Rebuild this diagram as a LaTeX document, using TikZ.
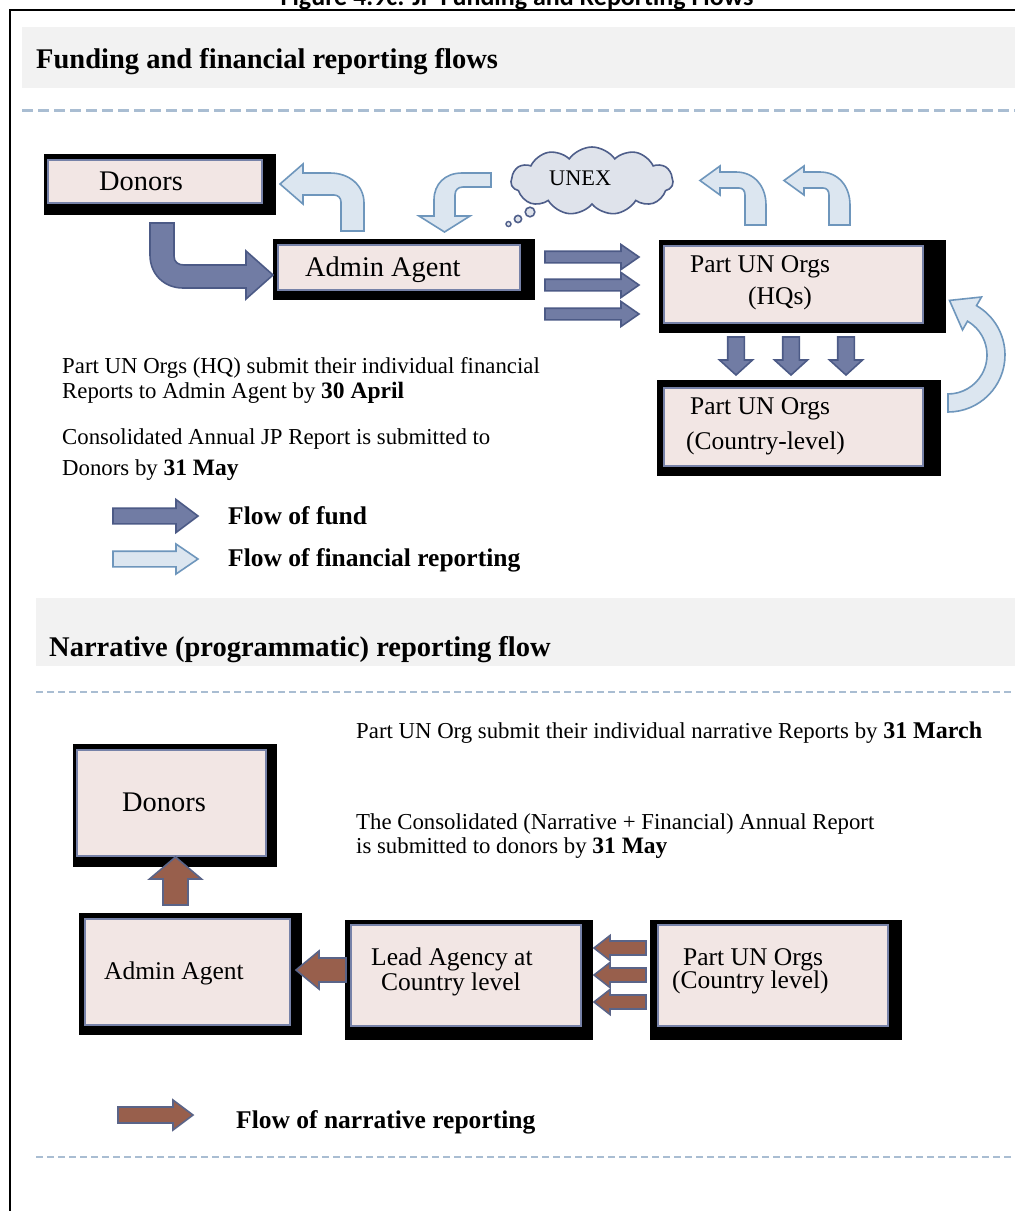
\documentclass[tikz,border=0pt]{standalone}
\usepackage{fontspec}
\setmainfont{Liberation Serif}
\newfontfamily\titlefont{Carlito}
\usetikzlibrary{shapes.symbols}
\definecolor{boxfill}{HTML}{F2E6E4}
\definecolor{boxedge}{HTML}{7782A8}
\definecolor{fundfill}{HTML}{717CA4}
\definecolor{fundedge}{HTML}{4C5A86}
\definecolor{repfill}{HTML}{DCE6F0}
\definecolor{repedge}{HTML}{6E96BC}
\definecolor{narfill}{HTML}{985F4C}
\definecolor{naredge}{HTML}{5A6488}
\definecolor{band}{HTML}{F2F2F2}
\definecolor{dashc}{HTML}{A9BDD2}
\definecolor{cloudfill}{HTML}{DFE3EB}
\definecolor{cloudedge}{HTML}{4E5E8A}
\newcommand\myfs[1]{\fontsize{#1}{#1}\selectfont}
% horizontal block arrow: style, tail x, tip x, y centre, shaft half, head half, head length (signed)
\newcommand\harrow[7][]{%
  \draw[#1] (#2,{#4-#5}) -- ({#3-(#7)},{#4-#5}) -- ({#3-(#7)},{#4-#6}) -- (#3,#4)
    -- ({#3-(#7)},{#4+#6}) -- ({#3-(#7)},{#4+#5}) -- (#2,{#4+#5}) -- cycle;}
% vertical block arrow: style, x centre, tail y, tip y, shaft half, head half, head length (signed)
\newcommand\varrow[7][]{%
  \draw[#1] ({#2-#5},#3) -- ({#2-#5},{#4-(#7)}) -- ({#2-#6},{#4-(#7)}) -- (#2,#4)
    -- ({#2+#6},{#4-(#7)}) -- ({#2+#5},{#4-(#7)}) -- ({#2+#5},#3) -- cycle;}
\tikzset{
  boxst/.style={draw=boxedge, line width=2.5pt, fill=boxfill, inner sep=0pt, outer sep=0pt},
  shadowst/.style={fill=black},
  fundst/.style={fill=fundfill, draw=fundedge, line width=1.6pt, line join=miter},
  repst/.style={fill=repfill, draw=repedge, line width=1.6pt, line join=miter},
  narst/.style={fill=narfill, draw=naredge, line width=1.6pt, line join=miter},
  dashst/.style={draw=dashc, line width=3pt, dash pattern=on 11pt off 5pt},
  dashthin/.style={draw=dashc, line width=2.2pt, dash pattern=on 7pt off 4pt},
  txt/.style={anchor=base west, inner sep=0pt, font=\myfs{22.8}},
  boxtxt/.style={anchor=base west, inner sep=0pt, font=\myfs{25.5}},
  bigtxt/.style={anchor=base west, inner sep=0pt, font=\myfs{28.4}},
  headtxt/.style={anchor=base west, inner sep=0pt, font=\myfs{28.5}\bfseries},
  legtxt/.style={anchor=base west, inner sep=0pt, font=\myfs{25.5}\bfseries},
}
\begin{document}
\begin{tikzpicture}[x=1pt,y=-1pt]
\useasboundingbox (0,0) rectangle (1015,1211);
\begin{scope}
\clip (0,0) rectangle (1015,1211);
\fill[white] (0,0) rectangle (1015,1211);
% figure title (cut by the top edge, as in the reference)
\node[anchor=base, inner sep=0pt, font=\titlefont\myfs{26}\bfseries] (title) at (517,5) {Figure 4.9c: JP Funding and Reporting Flows};
% frame
\draw[line width=1.3pt] (10,1215) -- (10,10) -- (1020,10);

% ===== section 1 =====
\fill[band] (22,27) rectangle (1015,88);
\node[headtxt] (h1) at (36,68) {Funding and financial reporting flows};
\draw[dashst] (22,110) -- (1015,110);

% boxes
\fill[shadowst] (44,154) rectangle (276,215);
\node[boxst, minimum width=214pt, minimum height=43pt] (donA) at (155,181.5) {};
\node[bigtxt] (donAt) at (99,190) {Donors};

\fill[shadowst] (273,239) rectangle (535,300);
\node[boxst, minimum width=242pt, minimum height=45pt] (admA) at (399,267.5) {};
\node[bigtxt] (admAt) at (305,276) {Admin Agent};

\fill[shadowst] (659,240) rectangle (946,333);
\node[boxst, minimum width=259pt, minimum height=77pt] (hq) at (793.5,284.5) {};
\node[boxtxt] (hqt1) at (690,272) {Part UN Orgs};
\node[boxtxt] (hqt2) at (748,304) {(HQs)};

\fill[shadowst] (657,380) rectangle (941,476);
\node[boxst, minimum width=259pt, minimum height=78pt] (cl) at (793.5,427) {};
\node[boxtxt] (clt1) at (690,414) {Part UN Orgs};
\node[boxtxt] (clt2) at (686,449) {(Country-level)};

% cloud
\node[cloud, cloud puffs=11, cloud puff arc=110, aspect=2.3, draw=cloudedge, fill=cloudfill,
      line width=1.6pt, minimum width=162pt, minimum height=68pt, inner sep=0pt] (unex) at (592,181) {};
\node[anchor=base west, inner sep=0pt, font=\myfs{22.3}] (unext) at (549,185) {UNEX};
\draw[draw=cloudedge, fill=cloudfill, line width=1.6pt] (530,212) circle[radius=4.8pt];
\draw[draw=cloudedge, fill=cloudfill, line width=1.6pt] (518,219) circle[radius=3.6pt];
\draw[draw=cloudedge, fill=cloudfill, line width=1.4pt] (508.5,224) circle[radius=2.5pt];

% fund curved arrow Donors -> Admin
\draw[fundst] (150,223) -- (150,255) .. controls (150,274) and (164,288) .. (183,288)
  -- (246,288) -- (246,299) -- (273,275) -- (246,251) -- (246,265) -- (184,265)
  .. controls (178,265) and (174,262) .. (174,256) -- (174,223) -- cycle;
% report arrow Admin -> Donors
\draw[repst] (364,231) -- (364,203) .. controls (364,186) and (350,173) .. (330,173)
  -- (303,173) -- (303,164) -- (280,184) -- (303,204) -- (303,195) -- (334,195)
  .. controls (338,195) and (341,198) .. (341,202) -- (341,231) -- cycle;
% report arrow UNEX -> Admin
\draw[repst] (491,173) -- (462,173) .. controls (445,173) and (434,184) .. (434,200)
  -- (434,216) -- (419,216) -- (444.5,232) -- (470,216) -- (455,216) -- (455,195)
  .. controls (455,190) and (458,187) .. (463,187) -- (491,187) -- cycle;
% report arrows HQ -> up
\foreach \dx in {0,84}{
\begin{scope}[xshift=\dx pt]
\draw[repst] (766,225) -- (766,205) .. controls (766,186) and (754,172) .. (736,172)
  -- (720,172) -- (720,166) -- (700,180.5) -- (720,195) -- (720,188) -- (739,188)
  .. controls (743,188) and (745,191) .. (745,195) -- (745,225) -- cycle;
\end{scope}}
% report arrow Country -> HQ (curved, right side)
\draw[repst] (948,412) arc[start angle=90, end angle=-60, radius=57]
  -- (981.5,297) -- (949.5,300.4) -- (962.5,329.9) -- (967.5,321.2)
  arc[start angle=-60, end angle=90, radius=39] -- cycle;
% fund arrows Admin -> HQ
\foreach \yy in {257,285,314}{\harrow[fundst]{545}{639}{\yy}{5.8}{12.5}{18}}
% fund arrows HQ -> Country
\foreach \xx in {736,791,846}{\varrow[fundst]{\xx}{337}{375}{8.3}{16.5}{15}}

% explanatory text
\node[txt] (t1) at (62,373) {Part UN Orgs (HQ) submit their individual financial};
\node[txt] (t2) at (62,398) {Reports to Admin Agent by \textbf{\myfs{23.5}30 April}};
\node[txt] (t3) at (62,444) {Consolidated Annual JP Report is submitted to};
\node[txt] (t4) at (62,475) {Donors by \textbf{\myfs{23.5}31 May}};

% legend 1
\harrow[fundst]{113}{198}{516}{7.8}{16.5}{22}
\node[legtxt] (l1) at (228,524) {Flow of fund};
\harrow[repst]{113}{198}{559}{7.8}{15}{22}
\node[legtxt] (l2) at (228,566) {Flow of financial reporting};

% ===== section 2 =====
\fill[band] (36,598) rectangle (1015,666);
\node[headtxt] (h2) at (49,656) {Narrative (programmatic) reporting flow};
\draw[dashthin] (36,692) -- (1015,692);

\node[txt] (n1) at (356,738) {Part UN Org submit their individual narrative Reports by \textbf{\myfs{24}31 March}};
\node[txt] (n2) at (356,829) {The Consolidated (Narrative + Financial) Annual Report};
\node[txt] (n3) at (356,853) {is submitted to donors by \textbf{\myfs{23.5}31 May}};

\fill[shadowst] (73,744) rectangle (277,867);
\node[boxst, minimum width=189pt, minimum height=106pt] (donB) at (171.5,803) {};
\node[bigtxt] (donBt) at (122,811) {Donors};

\fill[shadowst] (79,913) rectangle (302,1035);
\node[boxst, minimum width=205pt, minimum height=106pt] (admB) at (187.5,972) {};
\node[boxtxt] (admBt) at (104,979) {Admin Agent};

\fill[shadowst] (345,920) rectangle (593,1040);
\node[boxst, minimum width=230pt, minimum height=101pt] (lead) at (466,975.5) {};
\node[boxtxt] (leadt1) at (371,965) {Lead Agency at};
\node[boxtxt] (leadt2) at (381,990) {Country level};

\fill[shadowst] (650,920) rectangle (902,1040);
\node[boxst, minimum width=230pt, minimum height=101pt] (puo) at (773,975.5) {};
\node[boxtxt] (puot1) at (683,965) {Part UN Orgs};
\node[boxtxt] (puot2) at (672,988) {(Country level)};

% narrative arrows
\varrow[narst]{175.5}{905}{857}{12.5}{26}{-22}
\harrow[narst]{346}{296}{970}{12}{19}{-23}
\foreach \yy in {948,975,1002}{\harrow[narst]{646}{594}{\yy}{7}{12.5}{-16}}

% legend 2
\harrow[narst]{118}{193}{1115}{8}{15}{20}
\node[legtxt] (l3) at (236,1128) {Flow of narrative reporting};
\draw[dashthin] (36,1157) -- (1015,1157);
\end{scope}
\end{tikzpicture}
\end{document}
